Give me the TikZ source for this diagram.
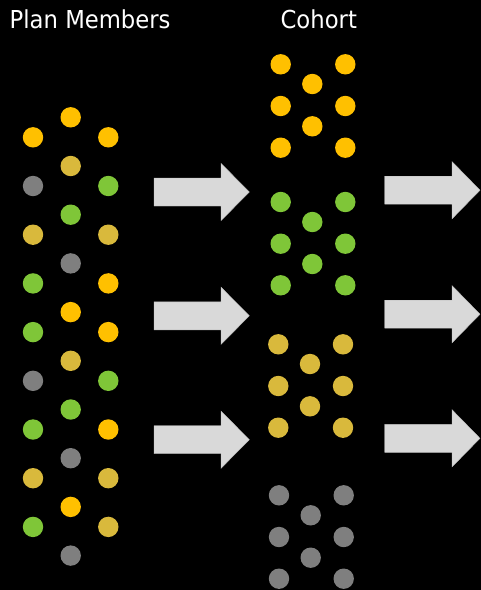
\documentclass[tikz,border=0pt]{standalone}
\usepackage{fontspec}
\setmainfont{DejaVu Sans}
\definecolor{cOr}{HTML}{FFC000}
\definecolor{cOl}{HTML}{D9B93C}
\definecolor{cGr}{HTML}{7FC638}
\definecolor{cGy}{HTML}{7F7F7F}
\definecolor{cAr}{HTML}{D9D9D9}
\definecolor{cArB}{HTML}{BFBFBF}
\tikzset{
  dot/.style={circle, inner sep=0pt, minimum size=20.4pt, fill=#1},
  title/.style={anchor=base west, inner sep=0pt, text=white, font=\fontsize{24.7pt}{28pt}\selectfont},
  fatarrow/.style={fill=cAr, draw=cArB, line width=0.4pt, line join=miter}
}
\newcommand{\fatarr}[4]{% x0, xbase, xtip, ycenter
  \draw[fatarrow] (#1,#4-14) -- (#2,#4-14) -- (#2,#4-28.6) -- (#3,#4) -- (#2,#4+28.6) -- (#2,#4+14) -- (#1,#4+14) -- cycle;}
\begin{document}
\begin{tikzpicture}[x=1pt,y=-1pt]
\fill[black] (0,0) rectangle (481,590);
\useasboundingbox (0,0) rectangle (481,590);
\node[title] (t1) at (9.5,28.3) {\scalebox{0.92}[1]{Plan Members}};
\node[title] (t2) at (280.4,28.3) {\scalebox{0.92}[1]{Cohort}};
% plan members: left column
\foreach \c [count=\k from 0] in {cOr,cGy,cOl,cGr,cGr,cGy,cGr,cOl,cGr}
  \node[dot=\c] (L\k) at (33,137.3+48.7*\k) {};
% right column
\foreach \c [count=\k from 0] in {cOr,cGr,cOl,cOr,cOr,cGr,cOr,cOl,cOl}
  \node[dot=\c] (R\k) at (108.3,137.3+48.7*\k) {};
% middle column
\foreach \c [count=\k from 0] in {cOr,cOl,cGr,cGy,cOr,cOl,cGr,cGy,cOr,cGy}
  \node[dot=\c] (M\k) at (70.7,117.3+48.7*\k) {};
% cohort groups
\foreach \c/\xa/\xb/\xc/\ya/\yb/\yc/\ym/\yn [count=\g] in {
  cOr/280.7/312.3/345.3/64.3/106/147.7/84/126.3,
  cGr/280.7/312.3/345.3/202/243.7/285.3/222/264,
  cOl/278.3/310/343/344.3/386/427.7/364/406.3,
  cGy/279/310.7/343.7/495.3/537/578.7/515.3/557.7}{
  \node[dot=\c] (G\g a) at (\xa,\ya) {};
  \node[dot=\c] (G\g b) at (\xa,\yb) {};
  \node[dot=\c] (G\g c) at (\xa,\yc) {};
  \node[dot=\c] (G\g d) at (\xc,\ya) {};
  \node[dot=\c] (G\g e) at (\xc,\yb) {};
  \node[dot=\c] (G\g f) at (\xc,\yc) {};
  \node[dot=\c] (G\g g) at (\xb,\ym) {};
  \node[dot=\c] (G\g h) at (\xb,\yn) {};
}
% arrows
\fatarr{154}{221}{249.3}{192}
\fatarr{154}{221}{249.3}{315.8}
\fatarr{154}{221}{249.3}{439.7}
\fatarr{384.7}{452}{480}{190.2}
\fatarr{384.7}{452}{480}{314.2}
\fatarr{384.7}{452}{480}{438.3}
\end{tikzpicture}
\end{document}
